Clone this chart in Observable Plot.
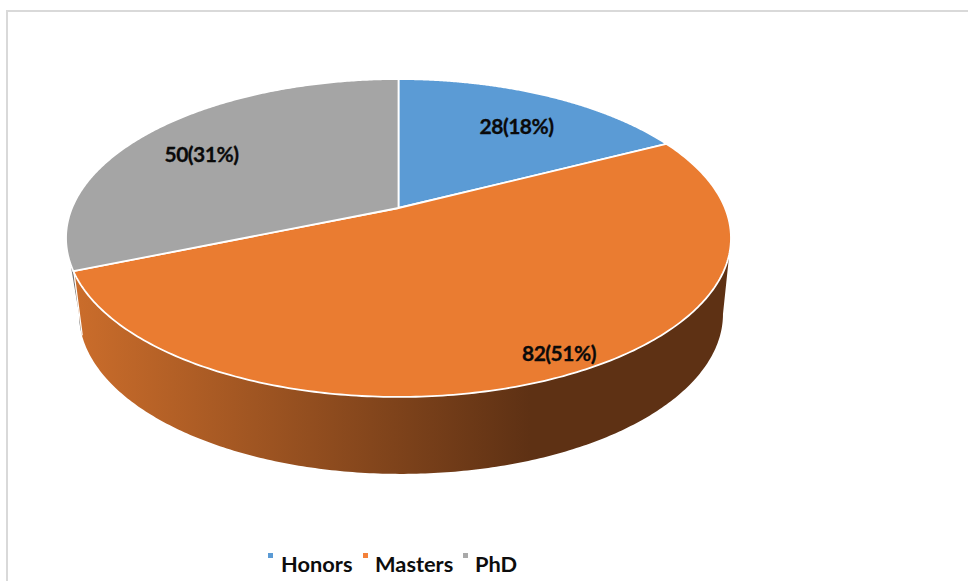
<!DOCTYPE html>
<html>
<head>
<meta charset="utf-8">
<script src="https://cdn.jsdelivr.net/npm/d3@7"></script>
<script src="https://cdn.jsdelivr.net/npm/@observablehq/plot@0.6"></script>
<style>
  html, body { margin: 0; padding: 0; background: #fff; overflow: hidden; }
  #page { position: relative; width: 968px; height: 581px; overflow: hidden; font-family: Lato, sans-serif; }
  #frame { position: absolute; left: 6px; top: 10px; right: -4px; bottom: -4px; border: 2px solid #d9d9d9; pointer-events: none; }
  #chart svg { display: block; }
  #legend { position: absolute; left: 0; top: 545px; width: 968px; height: 36px; }
  .key { position: absolute; top: 8px; width: 5px; height: 5px; }
  .name { position: absolute; top: 6px; font-weight: 700; font-size: 21.8px; line-height: 26px; color: #0d0d0d; }
</style>
</head>
<body>
<div id="page">
  <div id="frame"></div>
  <div id="chart"></div>
  <div id="legend"></div>
</div>
<script>
// Data
const categories = ["Honors", "Masters", "PhD"];
const counts = [28, 82, 50];

// Styles
const sliceColors = ["#5b9bd5", "#ea7c31", "#a5a5a5"];
const legendColors = ["#5b9bd5", "#f4813a", "#a9a9a9"];

// Layout: perspective of the disc and where labels sit, in disc units
const tilt = 0.1887;
const baseScaleX = 0.9684;
const baseScaleY = 1.006;
const baseShiftX = 0.0077;
const baseDrop = 0.4945;
const seamTwist = 4.5;
const labelX = [0.36, 0.49, -0.605];
const labelY = [0.528, -0.95, 0.346];
const legendKeyX = [268, 363, 463];
const legendNameX = [281, 375, 475];

const total = d3.sum(counts);
const projectTop = deg => {
  const a = deg * Math.PI / 180, u = Math.sin(a), v = Math.cos(a), w = 1 + tilt * v;
  return { x: u / w, y: v / w };
};
const projectBase = deg => {
  const p = projectTop(deg);
  return { x: baseScaleX * p.x + baseShiftX, y: baseScaleY * p.y - baseDrop };
};
const bounds = d3.cumsum(counts).map(c => c / total * 360);
const slices = categories.map((category, i) => ({
  category, count: counts[i],
  start: i ? bounds[i - 1] : 0,
  end: bounds[i],
  label: `${counts[i]}(${Math.round(counts[i] / total * 100)}%)`,
  lx: labelX[i], ly: labelY[i]
}));
const steps = d3.range(0, 241).map(k => k / 240);
const lerp = (a, b, t) => a + (b - a) * t;

// Rim angles where the disc is widest: the wall's silhouette runs between them
const tangentRight = Math.acos(-tilt) * 180 / Math.PI;
const tangentLeft = 360 - tangentRight;

const topPoints = slices.flatMap(s => steps.map(t => ({ category: s.category, ...projectTop(lerp(s.start, s.end, t)) })));
const wallPoints = (topFrom, topTo, baseFrom, baseTo) => steps.map(t => {
  const a = projectTop(lerp(topFrom, topTo, t)), b = projectBase(lerp(baseFrom, baseTo, t));
  return { x1: a.x, y1: a.y, x2: b.x, y2: b.y };
});
const masters = slices[1];
const orangeWall = wallPoints(tangentRight, masters.end, tangentRight, masters.end + seamTwist);
const grayWall = wallPoints(masters.end, tangentLeft, masters.end + seamTwist, tangentLeft);
const seam = [projectTop(masters.end), projectBase(masters.end + seamTwist)];

const gradient = (id, stops) => () => {
  const defs = d3.create("svg:defs");
  const g = defs.append("linearGradient").attr("id", id).attr("x1", 0).attr("x2", 1).attr("y1", 0).attr("y2", 0);
  stops.forEach(([o, c]) => g.append("stop").attr("offset", o).attr("stop-color", c));
  return defs.node();
};

const chart = Plot.plot({
  width: 968, height: 545,
  margin: 0,
  axis: null,
  style: { background: "transparent", fontFamily: "Lato, sans-serif", letterSpacing: "-0.5px" },
  x: { domain: [-1, 1], range: [398.5 - 326.5, 398.5 + 326.5] },
  y: { domain: [-1, 1], range: [208 + 153.3, 208 - 153.3] },
  color: { domain: categories, range: sliceColors },
  marks: [
    gradient("wallOrange", [[0, "#cb6d2b"], [0.695, "#5e3114"], [1, "#5e3114"]]),
    gradient("wallGray", [[0, "#8a8a8a"], [1, "#5f5f5f"]]),
    Plot.area(grayWall, { x1: "x1", y1: "y1", x2: "x2", y2: "y2", fill: "url(#wallGray)" }),
    Plot.area(orangeWall, { x1: "x1", y1: "y1", x2: "x2", y2: "y2", fill: "url(#wallOrange)" }),
    Plot.line(seam, { x: "x", y: "y", stroke: "#fff", strokeWidth: 1.2 }),
    Plot.area(topPoints, {
      x1: "x", y1: "y", x2: () => 0, y2: () => 0, z: "category",
      fill: "category", stroke: "#fff", strokeWidth: 1.8, strokeLinejoin: "round"
    }),
    Plot.text(slices, {
      x: "lx", y: "ly", text: "label", fill: "#0a0a0a", stroke: "#0a0a0a", strokeWidth: 0.3,
      fontSize: 21, fontWeight: 700
    })
  ]
});
document.getElementById("chart").append(chart);

const legend = document.getElementById("legend");
categories.forEach((name, i) => {
  const key = document.createElement("span");
  key.className = "key";
  key.style.left = legendKeyX[i] + "px";
  key.style.background = legendColors[i];
  const label = document.createElement("span");
  label.className = "name";
  label.style.left = legendNameX[i] + "px";
  label.textContent = name;
  legend.append(key, label);
});
</script>
</body>
</html>
